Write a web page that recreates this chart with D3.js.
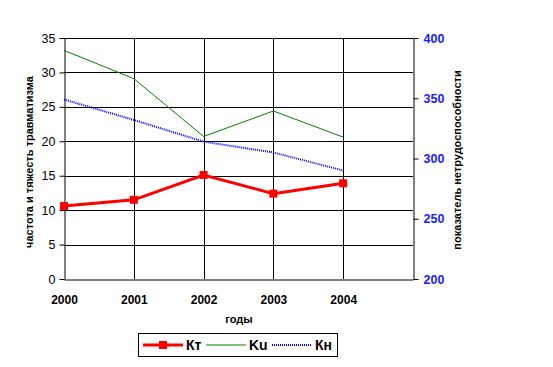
<!DOCTYPE html>
<html><head><meta charset="utf-8">
<script src="https://cdn.jsdelivr.net/npm/d3@7"></script>
<style>body{margin:0;background:#fff}svg{display:block;font-family:"Liberation Sans",Arial,sans-serif}</style>
</head><body>
<svg id="c" width="553" height="367"></svg>
<script>
const years = ["2000","2001","2002","2003","2004"];
const kt = [10.6, 11.5, 15.1, 12.4, 13.9];
const ku = [33.2, 29.1, 20.7, 24.4, 20.6];
const kn = [349, 332, 314, 305, 290];
const leftTicks = [0,5,10,15,20,25,30,35];
const rightTicks = [200,250,300,350,400];

const svg = d3.select("#c");
const L = 64, R = 413, T = 38, B = 279;
const x = d3.scaleLinear().domain([0,5]).range([L,R]);
const y = d3.scaleLinear().domain([0,35]).range([B,T]);
const y2 = d3.scaleLinear().domain([200,400]).range([B,T]);

// grid
const g = svg.append("g");
g.selectAll(".hg").data(leftTicks.slice(1)).enter().append("line")
  .attr("x1",L).attr("x2",R).attr("y1",d=>Math.round(y(d))+0.5).attr("y2",d=>Math.round(y(d))+0.5)
  .attr("stroke","#000").attr("stroke-width",1);
g.selectAll(".vg").data(d3.range(1,5)).enter().append("line")
  .attr("y1",T).attr("y2",B).attr("x1",d=>Math.round(x(d))+0.5).attr("x2",d=>Math.round(x(d))+0.5)
  .attr("stroke","#000").attr("stroke-width",1);

// left axis
const la = svg.append("g").attr("transform",`translate(${L+0.5},0)`)
  .call(d3.axisLeft(y).tickValues(leftTicks).tickSize(5).tickSizeOuter(0).tickPadding(4));
la.select(".domain").attr("stroke","#000");
la.selectAll("text").attr("font-size",12.5).attr("fill","#000");
la.selectAll("line").attr("stroke","#000");

// right axis
const ra = svg.append("g").attr("transform",`translate(${R+0.5},0)`)
  .call(d3.axisRight(y2).tickValues(rightTicks).tickSize(5).tickSizeOuter(0).tickPadding(5));
ra.select(".domain").attr("stroke","#000");
ra.selectAll("text").attr("font-size",12.5).attr("font-weight","bold").attr("fill","#1a1aff");
ra.selectAll("line").attr("stroke","#000");

// bottom axis
const ba = svg.append("g").attr("transform",`translate(0,${B+0.5})`)
  .call(d3.axisBottom(x).tickValues(d3.range(0,6)).tickSize(0).tickSizeOuter(0).tickPadding(16)
    .tickFormat(d=>years[d]||""));
ba.select(".domain").attr("stroke","#000");
ba.selectAll("text").attr("font-size",12).attr("font-weight","bold").attr("fill","#000");

// lines
const line = (arr, sc) => d3.line().x((d,i)=>x(i)).y(d=>sc(d))(arr);
svg.append("path").attr("d",line(ku,y)).attr("fill","none").attr("stroke","#008000").attr("stroke-width",1);
svg.append("path").attr("d",line(kn,y2)).attr("fill","none").attr("stroke","#0000ff").attr("stroke-width",2).attr("stroke-dasharray","1,1");
svg.append("path").attr("d",line(kt,y)).attr("fill","none").attr("stroke","#ff0000").attr("stroke-width",3);
svg.selectAll(".m").data(kt).enter().append("rect")
  .attr("x",(d,i)=>x(i)-4).attr("y",d=>y(d)-4).attr("width",8).attr("height",8).attr("fill","#ff0000");

// titles
svg.append("text").attr("transform","translate(33,162) rotate(-90)").attr("text-anchor","middle")
  .attr("font-size",11).attr("font-weight","bold").text("частота и тяжесть травматизма");
svg.append("text").attr("transform","translate(461,160) rotate(-90)").attr("text-anchor","middle")
  .attr("font-size",11).attr("font-weight","bold").text("показатель нетрудоспособности");
svg.append("text").attr("x",239).attr("y",323).attr("text-anchor","middle")
  .attr("font-size",11).attr("font-weight","bold").text("годы");

// legend
const lg = svg.append("g");
lg.append("rect").attr("x",138.5).attr("y",333.5).attr("width",199).attr("height",23).attr("fill","#fff").attr("stroke","#000");
const items = [
  {name:"Кт", color:"#ff0000", w:3, dash:null, marker:true},
  {name:"Ku", color:"#008000", w:1, dash:null, marker:false},
  {name:"Кн", color:"#0000ff", w:2, dash:"1,1", marker:false}
];
const lx = [143, 206, 272];
items.forEach((it,i)=>{
  const ly = 345;
  lg.append("line").attr("x1",lx[i]).attr("x2",lx[i]+40).attr("y1",ly).attr("y2",ly)
    .attr("stroke",it.color).attr("stroke-width",it.w).attr("stroke-dasharray",it.dash);
  if(it.marker) lg.append("rect").attr("x",lx[i]+16).attr("y",ly-4).attr("width",8).attr("height",8).attr("fill",it.color);
  lg.append("text").attr("x",lx[i]+43).attr("y",ly+5).attr("font-size",14).attr("font-weight","bold").text(it.name);
});
</script>
</body></html>
